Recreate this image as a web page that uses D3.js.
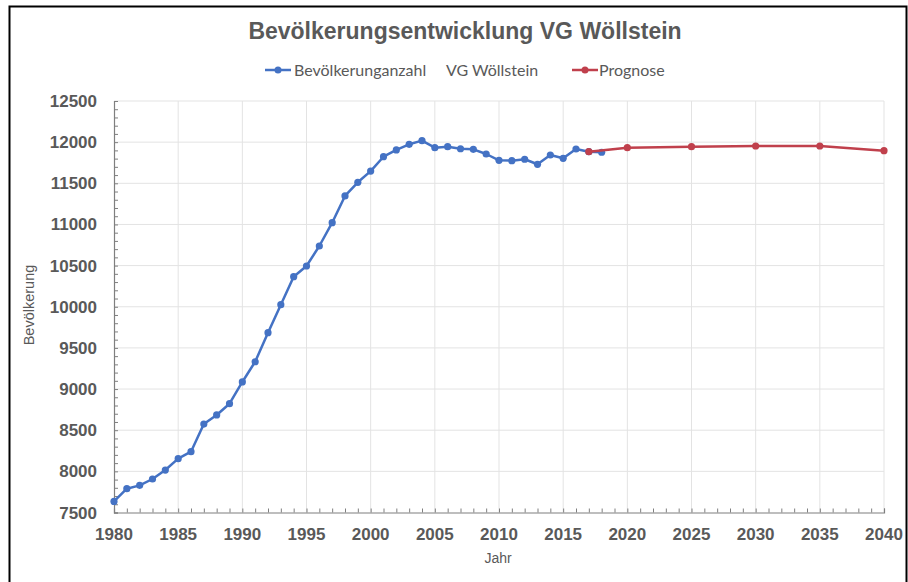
<!DOCTYPE html>
<html><head><meta charset="utf-8">
<script src="https://cdn.jsdelivr.net/npm/d3@7"></script>
<style>
html,body{margin:0;padding:0;background:#fff;}
svg{display:block;}
</style></head>
<body>
<svg id="chart" width="908" height="582"></svg>
<script>
const years = [1980,1981,1982,1983,1984,1985,1986,1987,1988,1989,1990,1991,1992,1993,1994,1995,1996,1997,1998,1999,2000,2001,2002,2003,2004,2005,2006,2007,2008,2009,2010,2011,2012,2013,2014,2015,2016,2017,2018];
const population = [7635,7789,7830,7907,8016,8154,8239,8575,8685,8822,9086,9332,9685,10025,10365,10495,10738,11021,11346,11512,11648,11823,11905,11974,12018,11933,11945,11920,11913,11856,11779,11775,11792,11731,11844,11804,11917,11884,11877];
const forecastYears = [2017,2020,2025,2030,2035,2040];
const forecast = [11884,11933,11945,11953,11953,11896];
const xTicks = [1980,1985,1990,1995,2000,2005,2010,2015,2020,2025,2030,2035,2040];
const yTicks = [7500,8000,8500,9000,9500,10000,10500,11000,11500,12000,12500];

const title = "Bevölkerungsentwicklung VG Wöllstein";
const legend1a = "Bevölkerunganzahl";
const legend1b = "VG Wöllstein";
const legend2 = "Prognose";

const svg = d3.select("#chart");
const blue = "#4472C4", red = "#C0404C", txt = "#595959";
const sans = "Liberation Sans, Arial, sans-serif";

// frame
svg.append("rect").attr("x",9.5).attr("y",6.5).attr("width",897).attr("height",590)
  .attr("fill","none").attr("stroke","#000").attr("stroke-width",2);

const x = d3.scaleLinear().domain([1980,2040]).range([114,884]);
const y = d3.scaleLinear().domain([7500,12500]).range([512.5,101]);

// grid
const g = svg.append("g");
g.selectAll(".vg").data(xTicks.slice(1)).join("line")
  .attr("x1",d=>x(d)).attr("x2",d=>x(d)).attr("y1",y(12500)).attr("y2",y(7500))
  .attr("stroke","#E3E3E3").attr("stroke-width",1);
g.selectAll(".hg").data(yTicks.slice(1)).join("line")
  .attr("x1",x(1980)).attr("x2",x(2040)).attr("y1",d=>y(d)).attr("y2",d=>y(d))
  .attr("stroke","#E3E3E3").attr("stroke-width",1);

// axes
const xAxis = d3.axisBottom(x).tickValues(d3.range(1980,2041,1)).tickSize(-4).tickFormat("");
const yAxis = d3.axisLeft(y).tickValues(d3.range(7500,12501,100)).tickSize(-4).tickFormat("");
const gx = svg.append("g").attr("transform",`translate(0,${y(7500)})`).call(xAxis);
const gy = svg.append("g").attr("transform",`translate(${x(1980)},0)`).call(yAxis);
[gx,gy].forEach(a=>{a.select(".domain").attr("stroke","#7F7F7F").attr("stroke-width",1.2);
  a.selectAll(".tick line").attr("stroke","#7F7F7F");});

svg.selectAll(".xl").data(xTicks).join("text")
  .attr("x",d=>x(d)).attr("y",540).attr("text-anchor","middle")
  .attr("font-family",sans).attr("font-weight","bold")
  .attr("font-size",17).attr("fill",txt).text(d=>d);
svg.selectAll(".yl").data(yTicks).join("text")
  .attr("x",97).attr("y",d=>y(d)+6).attr("text-anchor","end")
  .attr("font-family",sans).attr("font-weight","bold")
  .attr("font-size",17).attr("fill",txt).text(d=>d);

svg.append("text").attr("x",498).attr("y",563).attr("text-anchor","middle")
  .attr("font-family",sans).attr("font-size",14).attr("fill",txt).text("Jahr");
svg.append("text").attr("transform","translate(34,305) rotate(-90)").attr("text-anchor","middle")
  .attr("font-family",sans).attr("font-size",14.5).attr("fill",txt).text("Bevölkerung");

// title
svg.append("text").attr("x",465).attr("y",39).attr("text-anchor","middle")
  .attr("font-family",sans).attr("font-weight","bold")
  .attr("font-size",23).attr("fill",txt).text(title);

// legend
const lg = svg.append("g").attr("font-family","Lato, Open Sans, sans-serif").attr("font-size",16).attr("fill",txt);
function legMark(x0, color){
  lg.append("line").attr("x1",x0).attr("x2",x0+26).attr("y1",70).attr("y2",70).attr("stroke",color).attr("stroke-width",2.5);
  lg.append("circle").attr("cx",x0+13).attr("cy",70).attr("r",3.5).attr("fill",color);
}
legMark(265, blue);
lg.append("text").attr("x",294).attr("y",75.5).text(legend1a);
lg.append("text").attr("x",446).attr("y",75.5).text(legend1b);
legMark(572, red);
lg.append("text").attr("x",599).attr("y",75.5).text(legend2);

// series
const line = d3.line().x(d=>x(d[0])).y(d=>y(d[1]));
const s1 = years.map((yr,i)=>[yr,population[i]]);
const s2 = forecastYears.map((yr,i)=>[yr,forecast[i]]);
svg.append("path").datum(s1).attr("d",line).attr("fill","none").attr("stroke",blue).attr("stroke-width",2.5).attr("stroke-linejoin","round");
svg.selectAll(".p1").data(s1).join("circle").attr("cx",d=>x(d[0])).attr("cy",d=>y(d[1])).attr("r",3.6).attr("fill",blue);
svg.append("path").datum(s2).attr("d",line).attr("fill","none").attr("stroke",red).attr("stroke-width",2.5).attr("stroke-linejoin","round");
svg.selectAll(".p2").data(s2).join("circle").attr("cx",d=>x(d[0])).attr("cy",d=>y(d[1])).attr("r",3.6).attr("fill",red);
</script>
</body></html>
